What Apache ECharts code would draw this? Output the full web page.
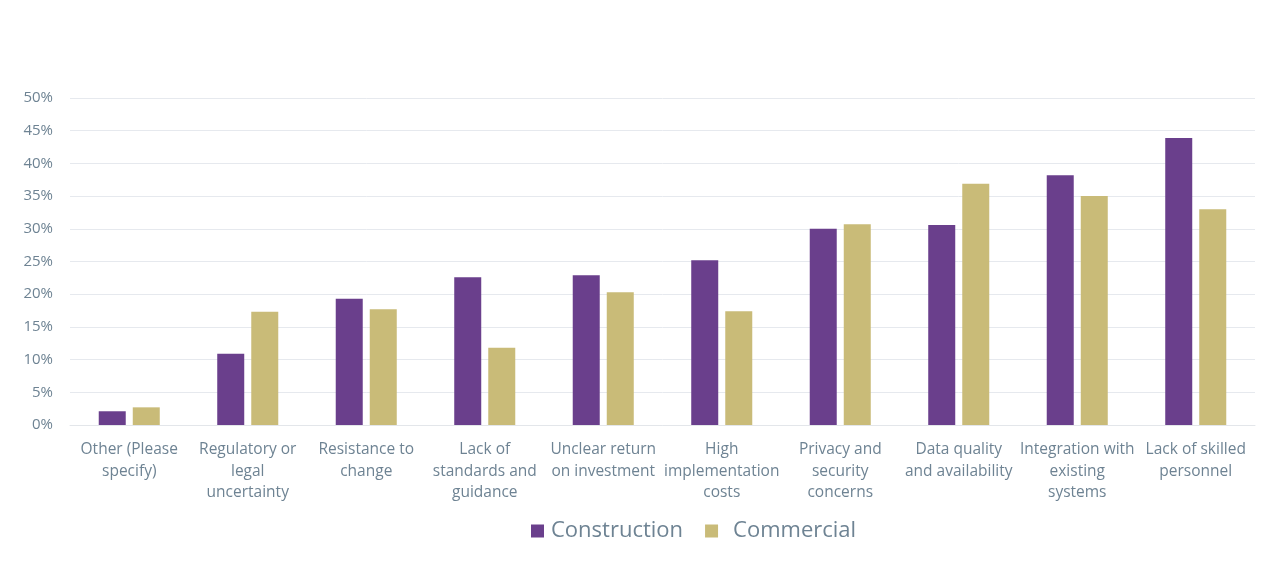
<!DOCTYPE html>
<html>
<head>
<meta charset="utf-8">
<script src="https://cdn.jsdelivr.net/npm/echarts@6/dist/echarts.min.js"></script>
<style>
html,body{margin:0;padding:0;background:#fff;}
#chart{width:1280px;height:576px;}
</style>
</head>
<body>
<div id="chart"></div>
<script>
const categories = [
  "Other (Please\nspecify)",
  "Regulatory or\nlegal\nuncertainty",
  "Resistance to\nchange",
  "Lack of\nstandards and\nguidance",
  "Unclear return\non investment",
  "High\nimplementation\ncosts",
  "Privacy and\nsecurity\nconcerns",
  "Data quality\nand availability",
  "Integration with\nexisting\nsystems",
  "Lack of skilled\npersonnel"
];
const construction = [2.1, 10.9, 19.3, 22.6, 22.9, 25.2, 30.0, 30.6, 38.2, 43.9];
const commercial = [2.7, 17.3, 17.7, 11.8, 20.3, 17.4, 30.7, 36.9, 35.0, 33.0];

const textColor = '#6e8393';
const chart = echarts.init(document.getElementById('chart'));
chart.setOption({
  animation: false,
  textStyle: { fontFamily: 'Open Sans' },
  grid: { left: 70, right: 25, top: 98, bottom: 151, containLabel: false },
  legend: {
    bottom: 29,
    left: 526,
    itemWidth: 13,
    itemHeight: 13,
    itemGap: 22,
    icon: 'rect',
    textStyle: { color: textColor, fontSize: 22, fontFamily: 'Open Sans', padding: [0, 0, 0, 2] },
    data: [
      { name: 'Construction' },
      { name: 'Commercial', textStyle: { padding: [0, 0, 0, 10] } }
    ]
  },
  xAxis: {
    type: 'category',
    data: categories,
    axisLine: { lineStyle: { color: '#e3e6ea' } },
    axisTick: { show: false },
    axisLabel: { color: textColor, fontSize: 15.5, lineHeight: 21.5, margin: 14, interval: 0 }
  },
  yAxis: {
    type: 'value',
    min: 0,
    max: 50,
    interval: 5,
    axisLine: { show: false },
    axisTick: { show: false },
    splitLine: { lineStyle: { color: '#e6e9ee' } },
    axisLabel: { color: textColor, fontSize: 15, margin: 17, formatter: '{value}%' }
  },
  series: [
    { name: 'Construction', type: 'bar', data: construction, barWidth: 27, barGap: '26%', itemStyle: { color: '#6a3f8c' } },
    { name: 'Commercial', type: 'bar', data: commercial, barWidth: 27, itemStyle: { color: '#c9bb78' } }
  ]
});
</script>
</body>
</html>
